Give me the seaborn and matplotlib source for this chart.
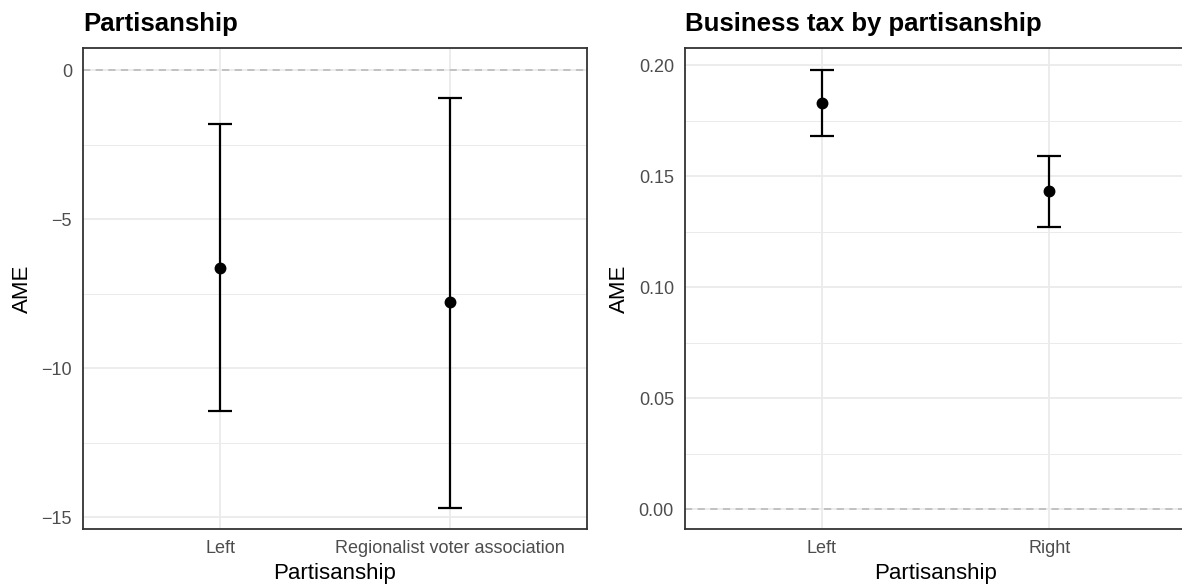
import numpy as np
import pandas as pd
import matplotlib
matplotlib.use("Agg")
import matplotlib.pyplot as plt
import seaborn as sns
from matplotlib.ticker import FormatStrFormatter, MultipleLocator

# panel 1: Partisanship
cats1 = ["Left", "Regionalist voter association"]
ame1 = [-6.64, -7.79]
lo1 = [-11.44, -14.70]
hi1 = [-1.81, -0.94]

# panel 2: Business tax by partisanship
cats2 = ["Left", "Right"]
ame2 = [0.1829, 0.1432]
lo2 = [0.168, 0.127]
hi2 = [0.1977, 0.159]

sns.set_theme(style="white")
plt.rcParams['font.family'] = ['Liberation Sans', 'DejaVu Sans']

grid_col = "#EBEBEB"
frame_col = "#333333"
tick_col = "#4D4D4D"


def panel(ax, cats, ame, lo, hi, title, ylim, major, minor, fmt=None):
    df = pd.DataFrame({"cat": cats, "ame": ame, "lo": lo, "hi": hi})
    ax.set_axisbelow(True)
    ax.axhline(0, color="#BEBEBE", ls=(0, (4, 3)), lw=1.3, zorder=1)
    ax.errorbar(x=np.arange(len(df)), y=df["ame"],
                yerr=[df["ame"] - df["lo"], df["hi"] - df["ame"]],
                fmt="none", ecolor="black", elinewidth=1.6, capsize=8.3,
                capthick=1.6, zorder=3)
    sns.pointplot(data=df, x="cat", y="ame", color="black", linestyle="none",
                  errorbar=None, markersize=6.5, ax=ax, zorder=4)
    ax.set_xlim(-0.6, len(df) - 0.4)
    ax.set_ylim(*ylim)
    ax.yaxis.set_major_locator(MultipleLocator(major))
    ax.yaxis.set_minor_locator(MultipleLocator(minor))
    if fmt:
        ax.yaxis.set_major_formatter(FormatStrFormatter(fmt))
    ax.grid(True, which="major", color=grid_col, lw=1.3)
    ax.grid(True, which="minor", axis="y", color=grid_col, lw=0.7)
    for s in ax.spines.values():
        s.set_visible(True)
        s.set_color(frame_col)
        s.set_linewidth(1.3)
    ax.tick_params(which="major", direction="out", length=4, width=1.1,
                   color=frame_col, labelcolor=tick_col, labelsize=13, pad=4)
    ax.tick_params(which="minor", length=0)
    ax.set_xlabel("Partisanship", fontsize=16, color="black", labelpad=4)
    ax.set_ylabel("AME", fontsize=16, color="black", labelpad=6)
    ax.set_title(title, loc="left", fontsize=18.5, fontweight="bold",
                 color="black", pad=12)


fig = plt.figure(figsize=(11.82, 5.88), dpi=100)
ax1 = fig.add_axes([83 / 1182, 59 / 588, 504 / 1182, 481 / 588])
ax2 = fig.add_axes([685 / 1182, 59 / 588, 501 / 1182, 481 / 588])

panel(ax1, cats1, ame1, lo1, hi1, "Partisanship", (-15.4, 0.74), 5, 2.5)
panel(ax2, cats2, ame2, lo2, hi2, "Business tax by partisanship",
      (-0.009, 0.2077), 0.05, 0.025, fmt="%.2f")

fig.savefig("out.png", dpi=100)
